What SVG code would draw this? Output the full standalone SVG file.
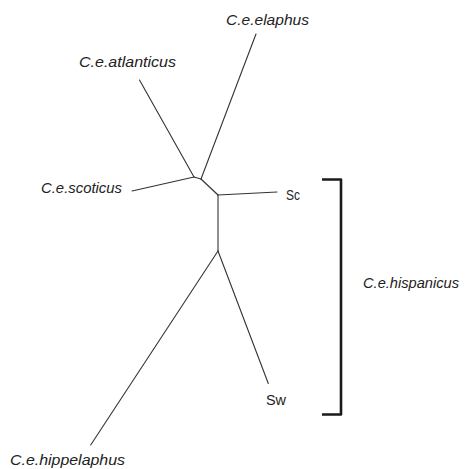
<svg xmlns="http://www.w3.org/2000/svg" width="465" height="469" viewBox="0 0 465 469">
<style>
.br{stroke:#333;stroke-width:1.1;fill:none;stroke-linecap:round}
.lbl{font-family:"Liberation Sans",Arial,sans-serif;font-size:15px;font-style:italic;fill:#222}
.lab{font-family:"Liberation Sans",Arial,sans-serif;font-size:15px;fill:#222}
.bk{stroke:#1a1a1a;stroke-width:2.6;fill:none;stroke-linejoin:round}
</style>
<rect width="465" height="469" fill="#fff"/>
<g id="connectors">
<line class="br" x1="139.5" y1="80" x2="194" y2="177"/>
<line class="br" x1="256" y1="34" x2="201" y2="179"/>
<line class="br" x1="132" y1="191" x2="194" y2="177"/>
<line class="br" x1="194" y1="177" x2="201" y2="179"/>
<line class="br" x1="201" y1="179" x2="218" y2="195"/>
<line class="br" x1="218" y1="195" x2="277" y2="192"/>
<line class="br" x1="218" y1="195" x2="218" y2="251"/>
<line class="br" x1="218" y1="251" x2="90.7" y2="445"/>
<line class="br" x1="218" y1="251" x2="268.3" y2="383.5"/>
</g>
<g id="n-elaphus"><text class="lbl" x="226" y="25" textLength="83" lengthAdjust="spacingAndGlyphs">C.e.elaphus</text></g>
<g id="n-atlanticus"><text class="lbl" x="79" y="67" textLength="97" lengthAdjust="spacingAndGlyphs">C.e.atlanticus</text></g>
<g id="n-scoticus"><text class="lbl" x="41" y="193" textLength="81" lengthAdjust="spacingAndGlyphs">C.e.scoticus</text></g>
<g id="n-sc"><text class="lab" x="286" y="200" textLength="14" lengthAdjust="spacingAndGlyphs">Sc</text></g>
<g id="n-sw"><text class="lab" x="266" y="405" textLength="20" lengthAdjust="spacingAndGlyphs">Sw</text></g>
<g id="n-hippelaphus"><text class="lbl" x="10" y="465" textLength="115" lengthAdjust="spacingAndGlyphs">C.e.hippelaphus</text></g>
<g id="n-hispanicus">
<path class="bk" d="M322 179.5 H341 V414.5 H322"/>
<text class="lbl" x="363" y="288" textLength="96" lengthAdjust="spacingAndGlyphs">C.e.hispanicus</text>
</g>
</svg>
